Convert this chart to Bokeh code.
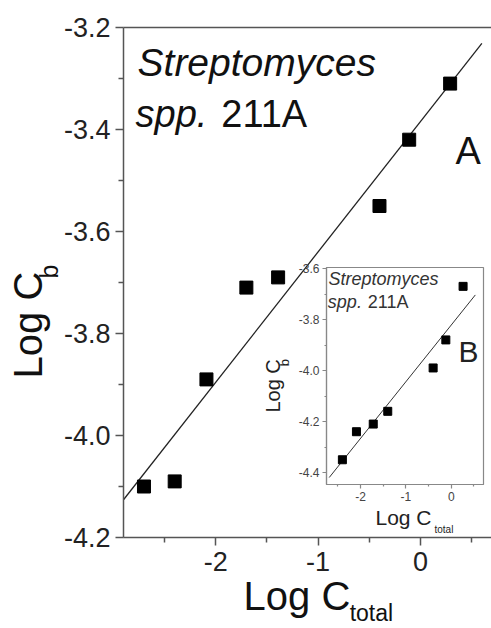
import numpy as np
from bokeh.plotting import figure
from bokeh.models import Label, LinearAxis, FixedTicker, Range1d, PrintfTickFormatter
from bokeh.embed import file_html
from bokeh.resources import INLINE

# ---- data (panel A, main plot) ----
main_log_ctotal = [-2.70, -2.40, -2.09, -1.70, -1.39, -0.40, -0.11, 0.29]
main_log_cb = [-4.10, -4.09, -3.89, -3.71, -3.69, -3.55, -3.42, -3.31]
main_fit_span = [-2.9, 0.6]

# ---- data (panel B, inset) ----
inset_log_ctotal = [-2.40, -2.09, -1.72, -1.40, -0.40, -0.12, 0.26]
inset_log_cb = [-4.35, -4.24, -4.21, -4.16, -3.99, -3.88, -3.67]
inset_fit_span = [-2.69, 0.53]

# ---- ticks ----
main_x_ticks = [-2, -1, 0]
main_y_ticks = [-4.2, -4.0, -3.8, -3.6, -3.4, -3.2]
inset_x_ticks = [-2, -1, 0]
inset_y_ticks = [-4.4, -4.2, -4.0, -3.8, -3.6]

FONT = "Liberation Sans"
AXIS_COL = "#555555"
TXT = "#111111"
BASELINE_FIX = 0.38  # em; label baseline correction

W, H = 491, 628
# main frame geometry (pixels) and ranges
MAIN_X = (-2.9, 0.694)
MAIN_Y = (-4.2, -3.2)
MAIN_B = dict(left=123, right=0, top=27, bottom=91)
# inset figure geometry
INSET_POS = (265, 255)
INSET_W, INSET_H = 226, 285
INSET_X = (-2.75, 0.71)
INSET_Y = (-4.447, -3.596)
INSET_B = dict(left=61, right=8, top=12, bottom=56)

main_fw = W - MAIN_B["left"] - MAIN_B["right"]
main_fh = H - MAIN_B["top"] - MAIN_B["bottom"]
MAIN_PPU = (main_fw / (MAIN_X[1] - MAIN_X[0]), main_fh / (MAIN_Y[1] - MAIN_Y[0]))
in_left = INSET_POS[0] + INSET_B["left"]
in_right = INSET_POS[0] + INSET_W - INSET_B["right"]
in_top = INSET_POS[1] + INSET_B["top"]
in_bottom = INSET_POS[1] + INSET_H - INSET_B["bottom"]
INSET_PPU = ((in_right - in_left) / (INSET_X[1] - INSET_X[0]),
             (in_bottom - in_top) / (INSET_Y[1] - INSET_Y[0]))


def minors(ticks):
    step = ticks[1] - ticks[0]
    out = [t + step / 2 for t in ticks]
    out.append(ticks[0] - step / 2)
    return sorted(out)


def style_axis(ax, font_size, tick_out, minor_out, standoff, lw, col, label_col):
    ax.axis_line_color = col
    ax.axis_line_width = lw
    ax.major_tick_line_color = col
    ax.major_tick_line_width = lw
    ax.minor_tick_line_color = col
    ax.minor_tick_line_width = lw
    ax.major_tick_in = 0
    ax.major_tick_out = tick_out
    ax.minor_tick_in = 0
    ax.minor_tick_out = minor_out
    ax.major_label_text_font = FONT
    ax.major_label_text_font_size = font_size
    ax.major_label_text_color = label_col
    ax.major_label_standoff = standoff


def lab(fig, x, y, text, size_px, ppu, italic=False, angle=0, color=TXT, rng=None):
    kw = {}
    if rng:
        kw = dict(x_range_name=rng, y_range_name=rng)
    fix = BASELINE_FIX * size_px
    if angle:
        x -= fix / ppu[0]
    else:
        y += fix / ppu[1]
    fig.add_layout(Label(x=x, y=y, text=text, text_font=FONT, text_font_size=f"{size_px}px",
                         text_font_style="italic" if italic else "normal",
                         text_color=color, text_align="left", text_baseline="alphabetic",
                         angle=angle, angle_units="deg", **kw))


def extended(rng, lo_px, frame_px, hi_px):
    s = (rng[1] - rng[0]) / frame_px
    return (rng[0] - lo_px * s, rng[1] + hi_px * s)


# ================= main figure =================
p = figure(width=W, height=H,
           x_range=Range1d(*MAIN_X), y_range=Range1d(*MAIN_Y),
           output_backend="svg", toolbar_location=None,
           min_border_left=MAIN_B["left"], min_border_right=MAIN_B["right"],
           min_border_top=MAIN_B["top"], min_border_bottom=MAIN_B["bottom"])
p.grid.visible = False
p.outline_line_color = None
p.background_fill_color = "white"
p.border_fill_color = "white"

p.xaxis.ticker = FixedTicker(ticks=main_x_ticks, minor_ticks=minors(main_x_ticks))
p.yaxis.ticker = FixedTicker(ticks=main_y_ticks, minor_ticks=minors(main_y_ticks))
p.xaxis.formatter = PrintfTickFormatter(format="%d")
p.yaxis.formatter = PrintfTickFormatter(format="%.1f")
style_axis(p.xaxis[0], "27px", 8, 5, 6, 1.5, AXIS_COL, "#222222")
style_axis(p.yaxis[0], "27px", 8, 5, 5, 1.5, AXIS_COL, "#222222")

top_axis = LinearAxis(ticker=FixedTicker(ticks=[]), major_tick_out=0, minor_tick_out=0,
                      major_label_standoff=0, axis_line_color=AXIS_COL, axis_line_width=1.5)
p.add_layout(top_axis, "above")

fit_main = np.polyfit(main_log_ctotal, main_log_cb, 1)
p.line(main_fit_span, np.polyval(fit_main, main_fit_span).tolist(),
       line_color="#222222", line_width=1.3)
p.scatter(main_log_ctotal, main_log_cb, marker="square", size=13,
          fill_color="black", line_color="black")

lab(p, -2.763, -3.298, "Streptomyces", 39, MAIN_PPU, italic=True)
lab(p, -2.782, -3.398, "spp.", 38, MAIN_PPU, italic=True)
lab(p, -1.945, -3.398, "211A", 38, MAIN_PPU)
lab(p, 0.342, -3.471, "A", 38, MAIN_PPU)

# ================= inset figure =================
q = figure(width=INSET_W, height=INSET_H,
           x_range=Range1d(*INSET_X), y_range=Range1d(*INSET_Y),
           output_backend="svg", toolbar_location=None,
           min_border_left=INSET_B["left"], min_border_right=INSET_B["right"],
           min_border_top=INSET_B["top"], min_border_bottom=INSET_B["bottom"])
q.grid.visible = False
q.background_fill_color = None
q.border_fill_color = None
q.outline_line_color = "#888888"
q.outline_line_width = 1.2

q.xaxis.ticker = FixedTicker(ticks=inset_x_ticks, minor_ticks=minors(inset_x_ticks))
q.yaxis.ticker = FixedTicker(ticks=inset_y_ticks, minor_ticks=minors(inset_y_ticks))
q.xaxis.formatter = PrintfTickFormatter(format="%d")
q.yaxis.formatter = PrintfTickFormatter(format="%.1f")
style_axis(q.xaxis[0], "12px", 4, 2, 3, 1.2, "#888888", "#444444")
style_axis(q.yaxis[0], "12px", 4, 2, 3, 1.2, "#888888", "#444444")

fit_inset = np.polyfit(inset_log_ctotal, inset_log_cb, 1)
q.line(inset_fit_span, np.polyval(fit_inset, inset_fit_span).tolist(),
       line_color="#333333", line_width=1.0)
q.scatter(inset_log_ctotal, inset_log_cb, marker="square", size=8,
          fill_color="black", line_color="black")

lab(q, -2.706, -3.667, "Streptomyces", 18, INSET_PPU, italic=True, color="#333333")
lab(q, -2.72, -3.757, "spp.", 18, INSET_PPU, italic=True, color="#333333")
lab(q, -1.84, -3.757, "211A", 18, INSET_PPU, color="#333333")
lab(q, 0.157, -3.969, "B", 30, INSET_PPU, color="#222222")

q.styles = {"position": "absolute", "left": f"{INSET_POS[0]}px", "top": f"{INSET_POS[1]}px"}

# ================= overlay for axis titles (not clipped by frames) =================
ov_x = extended(MAIN_X, MAIN_B["left"], main_fw, MAIN_B["right"])
ov_y = extended(MAIN_Y, MAIN_B["bottom"], main_fh, MAIN_B["top"])
ins_ov_x = extended(INSET_X, in_left, in_right - in_left, W - in_right)
ins_ov_y = extended(INSET_Y, H - in_bottom, in_bottom - in_top, in_top)

ov = figure(width=W, height=H, x_range=Range1d(*ov_x), y_range=Range1d(*ov_y),
            output_backend="svg", toolbar_location=None, title=None,
            x_axis_location=None, y_axis_location=None, min_border=0)
ov.extra_x_ranges = {"inset": Range1d(*ins_ov_x)}
ov.extra_y_ranges = {"inset": Range1d(*ins_ov_y)}
ov.grid.visible = False
ov.outline_line_color = None
ov.background_fill_color = None
ov.border_fill_color = None
ov.styles = {"position": "absolute", "left": "0px", "top": "0px", "pointer-events": "none"}

# main axis titles
lab(ov, -1.727, -4.345, "Log C", 40, MAIN_PPU)
lab(ov, -0.691, -4.366, "total", 23, MAIN_PPU)
lab(ov, -3.681, -3.888, "Log C", 40, MAIN_PPU, angle=90)
lab(ov, -3.535, -3.692, "b", 25, MAIN_PPU, angle=90)
# inset axis titles
lab(ov, -1.671, -4.608, "Log C", 21, INSET_PPU, color="#222222", rng="inset")
lab(ov, -0.37, -4.639, "total", 10, INSET_PPU, color="#222222", rng="inset")
lab(ov, -3.763, -4.165, "Log C", 20, INSET_PPU, angle=90, color="#222222", rng="inset")
lab(ov, -3.565, -3.983, "b", 13, INSET_PPU, angle=90, color="#222222", rng="inset")

open("out.html", "w").write(file_html([p, q, ov], INLINE))
